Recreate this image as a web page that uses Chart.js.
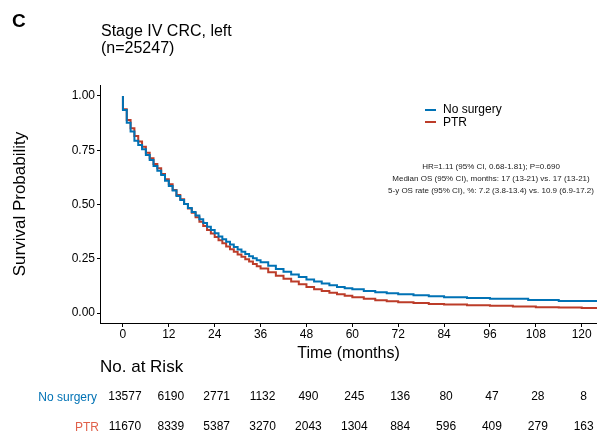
<!DOCTYPE html>
<html>
<head>
<meta charset="utf-8">
<script src="https://cdn.jsdelivr.net/npm/chart.js@4"></script>
<style>
  html, body { margin: 0; padding: 0; background: #fff; }
  body { width: 597px; height: 438px; position: relative; overflow: hidden;
         font-family: "Liberation Sans", Arial, sans-serif; color: #000; }
  #wrap { position: absolute; left: 0; top: 0; width: 597px; height: 438px; }
  .abs { position: absolute; white-space: nowrap; }
  #panel { left: 12px; top: 10px; font-size: 19px; font-weight: bold; }
  #title { left: 101px; top: 22px; font-size: 16px; line-height: 17px; }
  #legend { left: 425px; top: 103px; font-size: 12px; line-height: 12.5px; }
  #legend span.sw { display: inline-block; width: 11px; height: 2px; vertical-align: middle; margin-right: 7px; }
  #stats { left: 386px; width: 210px; top: 161px; font-size: 8px; line-height: 12px; text-align: center; color: #222; }
  #risk { left: 100px; top: 357px; font-size: 17px; }
  .rowlab { font-size: 12px; text-align: right; width: 97px; left: 0; }
</style>
</head>
<body>
<div id="wrap"><canvas id="kmChart" width="597" height="438"></canvas></div>
<div class="abs" id="panel">C</div>
<div class="abs" id="title">Stage IV CRC, left<br>(n=25247)</div>
<div class="abs" id="legend">
  <div><span class="sw" style="background:#0072B5"></span>No surgery</div>
  <div><span class="sw" style="background:#BC3C29"></span>PTR</div>
</div>
<div class="abs" id="stats">
  HR=1.11 (95% CI, 0.68-1.81); P=0.690<br>
  Median OS (95% CI), months: 17 (13-21) vs. 17 (13-21)<br>
  5-y OS rate (95% CI), %: 7.2 (3.8-13.4) vs. 10.9 (6.9-17.2)
</div>
<div class="abs" id="risk">No. at Risk</div>
<div class="abs rowlab" style="top:390px; color:#0072B5;">No surgery</div>
<div class="abs rowlab" style="top:420px; width:99px; color:#E0604A;">PTR</div>
<script>
// Kaplan-Meier steps (months, survival probability)
const timeNoSurgery = [0, 0, 1, 2, 3, 4, 5, 6, 7, 8, 9, 10, 11, 12, 13, 14, 15, 16, 17, 18, 19, 20, 21, 22, 23, 24,
    25, 26, 27, 28, 29, 30, 31, 32, 33, 34, 35, 36, 38, 40, 42, 44, 46, 48, 50, 52, 54, 56, 58, 60,
    63, 66, 69, 72, 76, 80, 84, 90, 96, 106, 114, 124];
const survNoSurgery = [1.0, 0.935, 0.877, 0.836, 0.794, 0.774, 0.755, 0.728, 0.705, 0.677, 0.656, 0.636, 0.61, 0.585,
    0.564, 0.539, 0.521, 0.502, 0.484, 0.466, 0.449, 0.432, 0.415, 0.398, 0.382, 0.367,
    0.353, 0.34, 0.328, 0.316, 0.304, 0.293, 0.282, 0.272, 0.262, 0.252, 0.243, 0.234, 0.218, 0.203, 0.19, 0.177,
    0.166, 0.155, 0.145, 0.136, 0.128, 0.12, 0.114, 0.109, 0.102, 0.096, 0.091, 0.087, 0.082, 0.077, 0.073,
    0.069, 0.066, 0.06, 0.055, 0.055];

const timePTR = [0, 0, 1, 2, 3, 4, 5, 6, 7, 8, 9, 10, 11, 12, 13, 14, 15, 16, 17, 18, 19, 20, 21, 22, 23, 24,
    25, 26, 27, 28, 29, 30, 31, 32, 33, 34, 35, 36, 38, 40, 42, 44, 46, 48, 50, 52, 54, 56, 58, 60,
    63, 66, 69, 72, 76, 80, 84, 90, 96, 102, 108, 114, 120, 124];
const survPTR = [1.0, 0.939, 0.889, 0.851, 0.816, 0.79, 0.766, 0.739, 0.713, 0.687, 0.667, 0.641, 0.616, 0.593,
    0.567, 0.544, 0.524, 0.502, 0.482, 0.462, 0.441, 0.421, 0.401, 0.382, 0.366, 0.35,
    0.335, 0.321, 0.307, 0.294, 0.282, 0.27, 0.259, 0.248, 0.237, 0.226, 0.215, 0.205, 0.188, 0.172, 0.158, 0.145,
    0.132, 0.12, 0.11, 0.101, 0.093, 0.086, 0.079, 0.073, 0.066, 0.059, 0.054, 0.05, 0.046, 0.042, 0.039,
    0.036, 0.033, 0.03, 0.027, 0.025, 0.023, 0.023];

// Axis ticks
const xTicks = [0, 12, 24, 36, 48, 60, 72, 84, 96, 108, 120];
const yTicks = [0, 0.25, 0.5, 0.75, 1.0];

// Number at risk table
const riskTimes = [0, 12, 24, 36, 48, 60, 72, 84, 96, 108, 120];
const riskNoSurgery = [13577, 6190, 2771, 1132, 490, 245, 136, 80, 47, 28, 8];
const riskPTR = [11670, 8339, 5387, 3270, 2043, 1304, 884, 596, 409, 279, 163];

const FONT = '"Liberation Sans", Arial, sans-serif';

function toPoints(times, values) {
    return times.map((t, i) => ({ x: t, y: values[i] }));
}

// Draw the numbers at risk under each x tick
const riskTablePlugin = {
    id: 'riskTable',
    afterDraw(chart) {
        const ctx = chart.ctx;
        const xScale = chart.scales.x;
        ctx.save();
        ctx.font = '12px ' + FONT;
        ctx.fillStyle = '#000';
        ctx.textAlign = 'center';
        ctx.textBaseline = 'middle';
        riskTimes.forEach((t, i) => {
            const px = xScale.getPixelForValue(t) + 2;
            ctx.fillText(String(riskNoSurgery[i]), px, 397);
            ctx.fillText(String(riskPTR[i]), px, 427);
        });
        ctx.restore();
    }
};

function createKmChart() {
    const ctx = document.getElementById('kmChart');
    if (!ctx) return null;

    return new Chart(ctx, {
        type: 'line',
        data: {
            datasets: [
                {
                    label: 'No surgery',
                    data: toPoints(timeNoSurgery, survNoSurgery),
                    borderColor: '#0072B5',
                    borderWidth: 2,
                    stepped: true,
                    pointRadius: 0,
                    fill: false
                },
                {
                    label: 'PTR',
                    data: toPoints(timePTR, survPTR),
                    borderColor: '#BC3C29',
                    borderWidth: 2,
                    stepped: true,
                    pointRadius: 0,
                    fill: false
                }
            ]
        },
        options: {
            responsive: false,
            animation: false,
            layout: { padding: { top: 85, right: 0, left: 0, bottom: 0 } },
            plugins: {
                legend: { display: false },
                tooltip: { enabled: false }
            },
            scales: {
                x: {
                    type: 'linear',
                    min: -6,
                    max: 124,
                    afterBuildTicks: (scale) => { scale.ticks = xTicks.map(v => ({ value: v })); },
                    afterFit: (scale) => { scale.height = 115; },
                    border: { color: '#000', width: 1 },
                    grid: { display: true, drawOnChartArea: false, drawTicks: true, tickLength: 4, color: '#000' },
                    ticks: { color: '#000', font: { size: 12, family: FONT }, padding: 0, maxRotation: 0, autoSkip: false },
                    title: {
                        display: true,
                        text: 'Time (months)',
                        color: '#000',
                        font: { size: 16, family: FONT },
                        padding: { top: 0, bottom: 75 }
                    }
                },
                y: {
                    type: 'linear',
                    min: -0.046,
                    max: 1.0506,
                    afterBuildTicks: (scale) => { scale.ticks = yTicks.map(v => ({ value: v })); },
                    afterFit: (scale) => { scale.width = 100; },
                    border: { color: '#000', width: 1 },
                    grid: { display: true, drawOnChartArea: false, drawTicks: true, tickLength: 3, color: '#000' },
                    ticks: {
                        color: '#000',
                        font: { size: 12, family: FONT },
                        padding: 2,
                        callback: (v) => Number(v).toFixed(2)
                    },
                    title: {
                        display: true,
                        text: 'Survival Probability',
                        color: '#000',
                        font: { size: 17, family: FONT },
                        padding: { top: 10, bottom: 0 }
                    }
                }
            }
        },
        plugins: [riskTablePlugin]
    });
}

createKmChart();
</script>
</body>
</html>
